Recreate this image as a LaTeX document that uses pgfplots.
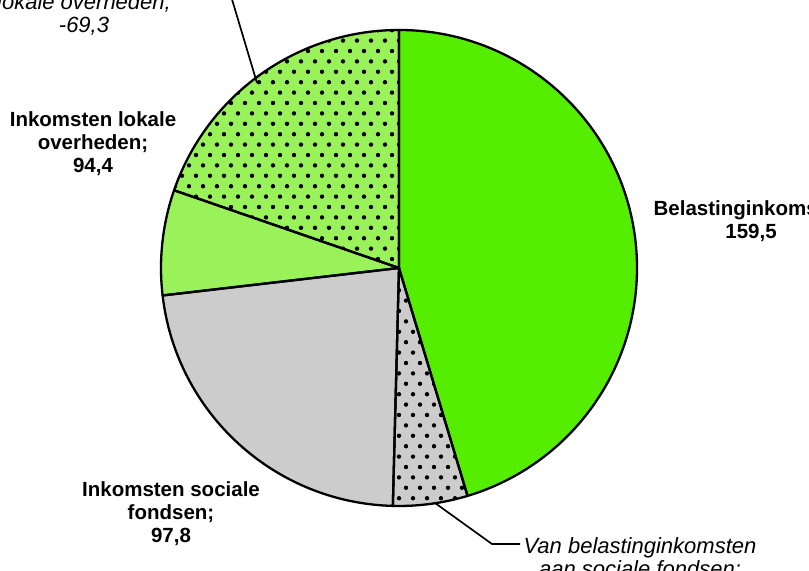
\documentclass[border=0pt]{standalone}
\usepackage{pgfplots}
\pgfplotsset{compat=1.18}
\usepackage{pgfplotstable}
\usepackage{fontspec}
\setmainfont{Liberation Sans}
\usetikzlibrary{patterns}

\definecolor{pgreen}{RGB}{85,238,0}
\definecolor{plgreen}{RGB}{153,242,90}
\definecolor{pgray}{RGB}{204,204,204}

% staggered dots
\pgfdeclarepatternformonly{piedots}{\pgfpoint{-2.5bp}{-2.5bp}}{\pgfpoint{16.5bp}{23.5bp}}{\pgfpoint{14bp}{20.8bp}}{%
  \pgfpathcircle{\pgfpoint{0bp}{0bp}}{2.2bp}%
  \pgfpathcircle{\pgfpoint{7bp}{10.4bp}}{2.2bp}%
  \pgfusepath{fill}}

% slices clockwise from 12 o'clock
\pgfplotstableread{
value col dots
159.5 pgreen 0
17.8 pgray 1
80.0 pgray 0
25.1 plgreen 0
69.3 plgreen 1
}\pietable

\begin{document}
\begin{tikzpicture}[
    lbl/.style={font=\bfseries\fontsize{20.5bp}{23bp}\selectfont, align=center, inner sep=0pt},
    ital/.style={font=\itshape\fontsize{22bp}{23bp}\selectfont, align=center, inner sep=0pt},
]
\useasboundingbox (0,0) rectangle (809bp,571bp);
\clip (0,0) rectangle (809bp,571bp);

\def\pietotal{0}
\foreach \i in {0,...,4}{%
  \pgfplotstablegetelem{\i}{value}\of\pietable
  \pgfmathsetmacro\tmp{\pietotal+\pgfplotsretval}%
  \xdef\pietotal{\tmp}}
\xdef\piecur{90}
\foreach \i in {0,...,4}{%
  \pgfplotstablegetelem{\i}{value}\of\pietable
  \pgfmathsetmacro\tmp{\piecur-\pgfplotsretval/\pietotal*360}%
  \expandafter\xdef\csname pieA\i\endcsname{\piecur}%
  \expandafter\xdef\csname pieB\i\endcsname{\tmp}%
  \xdef\piecur{\tmp}%
  \pgfplotstablegetelem{\i}{col}\of\pietable
  \xglobal\colorlet{pieC\i}{\pgfplotsretval}%
  \pgfplotstablegetelem{\i}{dots}\of\pietable
  \ifnum\pgfplotsretval=1 \xglobal\colorlet{pieP\i}{black}\else\xglobal\colorlet{pieP\i}{pieC\i}\fi
}

\begin{axis}[
    hide axis,
    scale only axis,
    width=809bp, height=571bp,
    xmin=0, xmax=809, ymin=0, ymax=571,
    at={(0,0)}, anchor=south west,
    clip=false,
]
\pgfplotsinvokeforeach{0,...,4}{%
  \edef\tmp{\noexpand\fill[pieC#1, postaction={pattern=piedots, pattern color=pieP#1}]
    (axis cs:399,303) -- ++(\csname pieA#1\endcsname:238bp)
    arc[start angle=\csname pieA#1\endcsname, end angle=\csname pieB#1\endcsname, radius=238bp] -- cycle;}%
  \tmp
}
\pgfplotsinvokeforeach{0,...,4}{%
  \edef\tmp{\noexpand\draw[line width=2.3bp, line join=round]
    (axis cs:399,303) -- ++(\csname pieA#1\endcsname:238bp)
    arc[start angle=\csname pieA#1\endcsname, end angle=\csname pieB#1\endcsname, radius=238bp] -- cycle;}%
  \tmp
}

\draw[line width=1.7bp] (axis cs:257,488) -- (axis cs:225,595);
\draw[line width=1.7bp] (axis cs:435,68) -- (axis cs:492,27) -- (axis cs:520,27);

\node[lbl] at (axis cs:93,427) {Inkomsten lokale\\overheden;\\94,4};
\node[lbl] at (axis cs:751,349.5) {Belastinginkomsten\\159,5};
\node[lbl] at (axis cs:171,57) {Inkomsten sociale\\fondsen;\\97,8};
\node[ital, anchor=north] at (axis cs:640,33.5) {Van belastinginkomsten\\aan sociale fondsen;\\-17,8};
\node[ital, anchor=south] at (axis cs:84,535) {Van belastinginkomsten aan\\lokale overheden;\\-69,3};
\end{axis}
\end{tikzpicture}
\end{document}
